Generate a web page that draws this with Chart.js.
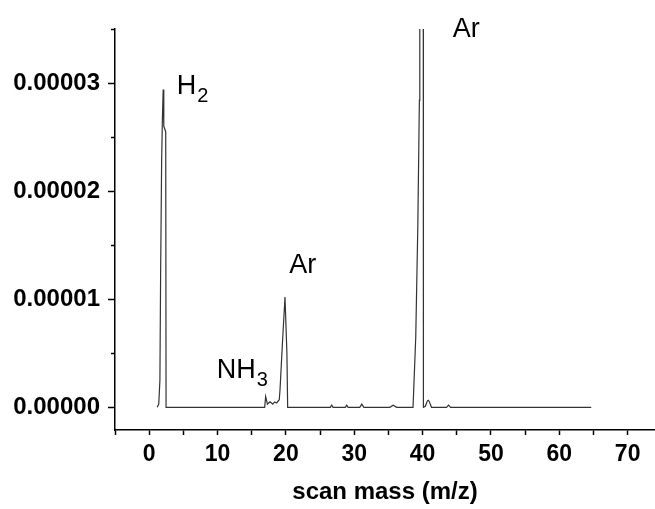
<!DOCTYPE html>
<html>
<head>
<meta charset="utf-8">
<script src="https://cdn.jsdelivr.net/npm/chart.js@4.4.1/dist/chart.umd.min.js"></script>
<style>
  body { margin: 0; background: #fff; }
  #wrap { width: 655px; height: 509px; }
</style>
</head>
<body>
<div id="wrap"><canvas id="massSpec" width="655" height="509"></canvas></div>
<script>
// scan mass (m/z) and ion current
const massValues = [
  1.17, 1.4, 1.57, 1.67, 1.82, 1.93, 2.05, 2.12, 2.16, 2.42, 2.47,
  5, 10, 16.9, 17.04, 17.3, 17.67, 18.07, 18.35, 18.65, 19.03,
  19.14, 19.5, 19.87, 20.15, 20.26, 24, 26.5, 26.7, 26.9, 28.7, 28.9, 29.1,
  30.8, 31.1, 31.4, 35.2, 35.7, 36.2, 38.6, 39.0, 39.3, 39.53, 39.59, 39.85,
  40.1, 40.12, 40.4, 40.7, 40.85, 41.0, 41.3, 43.5, 43.8, 44.1, 50, 64.67
];
const signalValues = [
  0, 0.0000003, 0.0000025, 0.000012, 0.0000226, 0.0000266, 0.0000294, 0.000029, 0.000026, 0.0000255, 0,
  0, 0, 0, 0.000001, 0.0000003, 0.0000005, 0.0000003, 0.0000005, 0.0000004, 0.0000007,
  0.0000016, 0.000006, 0.0000102, 0.000005, 0, 0, 0, 0.0000002, 0, 0, 0.0000002, 0,
  0, 0.0000003, 0, 0, 0.0000002, 0, 0, 0.0000065, 0.0000167, 0.0000284, 0.000035, 0.00015,
  0.000035, 0, 0.0000001, 0.0000006, 0.00000065, 0.0000005, 0, 0, 0.0000002, 0, 0, 0
];

const xTickValues = [-5, 0, 5, 10, 15, 20, 25, 30, 35, 40, 45, 50, 55, 60, 65, 70];
const yTickValues = [0, 0.00001, 0.00002, 0.00003];
const yMinorTicks = [0.000005, 0.000015, 0.000025, 0.000035];

// peak labels: text, subscript, mass and level where the text baseline starts
const peakLabels = [
  { text: 'H', sub: '2', mass: 4.05, level: 0.0000290 },
  { text: 'NH', sub: '3', mass: 9.87, level: 0.0000027 },
  { text: 'Ar', sub: '', mass: 20.5, level: 0.0000124 },
  { text: 'Ar', sub: '', mass: 44.4, level: 0.0000343 }
];

const fontFamily = '"Liberation Sans", Arial, sans-serif';

const points = massValues.map((m, i) => ({ x: m, y: signalValues[i] }));

const extras = {
  id: 'extras',
  afterDraw(chart) {
    const { ctx } = chart;
    const x = chart.scales.x, y = chart.scales.y;
    ctx.save();
    // minor ticks on the y axis
    ctx.strokeStyle = '#000';
    ctx.lineWidth = 1.5;
    yMinorTicks.forEach(v => {
      const py = Math.round(y.getPixelForValue(v)) + 0.5;
      ctx.beginPath();
      ctx.moveTo(x.left - 4, py);
      ctx.lineTo(x.left, py);
      ctx.stroke();
    });
    // peak labels
    ctx.fillStyle = '#000';
    ctx.textBaseline = 'alphabetic';
    peakLabels.forEach(l => {
      const px = x.getPixelForValue(l.mass);
      const py = y.getPixelForValue(l.level);
      ctx.font = '27px ' + fontFamily;
      ctx.fillText(l.text, px, py);
      if (l.sub) {
        const w = ctx.measureText(l.text).width;
        ctx.font = '20px ' + fontFamily;
        ctx.fillText(l.sub, px + w + 1, py + 8);
      }
    });
    ctx.restore();
  }
};

new Chart(document.getElementById('massSpec'), {
  type: 'scatter',
  data: {
    datasets: [{
      data: points,
      showLine: true,
      borderColor: '#333',
      borderWidth: 1.2,
      pointRadius: 0,
      tension: 0
    }]
  },
  options: {
    responsive: false,
    animation: false,
    layout: { padding: { top: 29, right: 0, left: 0, bottom: 0 } },
    plugins: { legend: { display: false }, tooltip: { enabled: false } },
    scales: {
      x: {
        type: 'linear',
        min: -5,
        max: 74,
        afterBuildTicks: s => { s.ticks = xTickValues.map(v => ({ value: v })); },
        afterFit: s => { s.height = 79; },
        grid: { drawOnChartArea: false, tickLength: 5, tickColor: '#000', tickWidth: 1.5 },
        border: { display: true, color: '#000', width: 1.5 },
        ticks: {
          autoSkip: false,
          maxRotation: 0,
          padding: 6,
          color: '#000',
          font: { family: fontFamily, size: 23, weight: 'bold' },
          callback: v => (v % 10 === 0 ? String(v) : '')
        },
        title: {
          display: true,
          text: 'scan mass (m/z)',
          color: '#000',
          font: { family: fontFamily, size: 24, weight: 'bold' },
          padding: { top: 0, bottom: 2 }
        }
      },
      y: {
        min: -0.0000021,
        max: 0.000035,
        afterBuildTicks: s => { s.ticks = yTickValues.map(v => ({ value: v })); },
        afterFit: s => { s.width = 115; },
        grid: { drawOnChartArea: false, tickLength: 7, tickColor: '#000', tickWidth: 1.5 },
        border: { display: true, color: '#000', width: 1.5 },
        ticks: {
          padding: 8,
          color: '#000',
          font: { family: fontFamily, size: 24, weight: 'bold' },
          callback: v => v.toFixed(5)
        }
      }
    }
  },
  plugins: [extras]
});
</script>
</body>
</html>
